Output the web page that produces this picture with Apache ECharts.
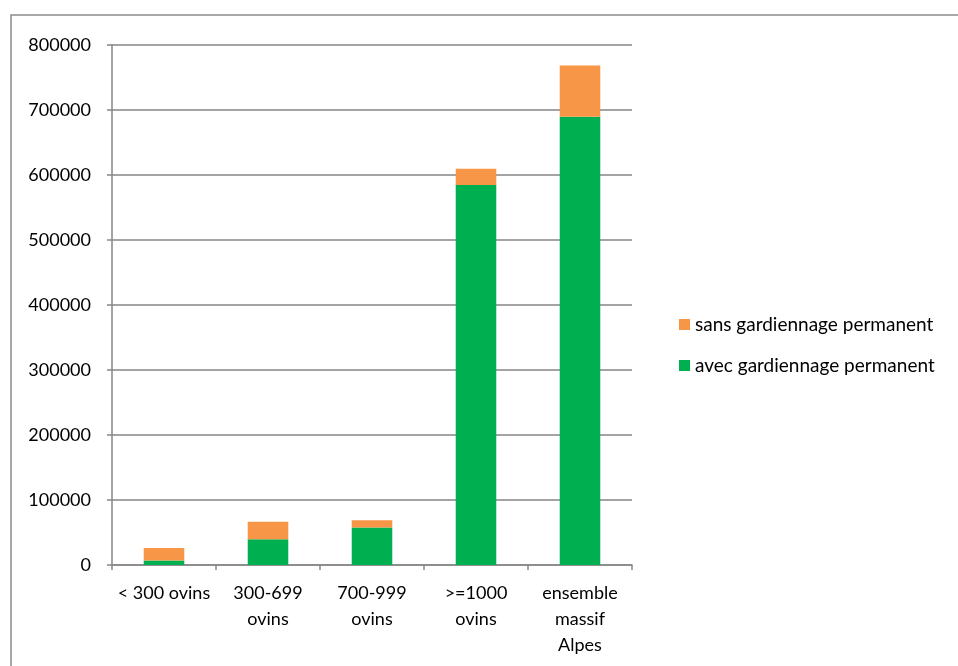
<!DOCTYPE html>
<html>
<head>
<meta charset="utf-8">
<script src="https://cdn.jsdelivr.net/npm/echarts@6/dist/echarts.min.js"></script>
<style>html,body{margin:0;padding:0;background:#fff}#c{width:958px;height:666px}</style>
</head>
<body>
<div id="c"></div>
<script>
var categories = ['< 300 ovins', '300-699\novins', '700-999\novins', '>=1000\novins', 'ensemble\nmassif\nAlpes'];
var avecValues = [6800, 39600, 57800, 584800, 689600];
var sansValues = [19200, 27100, 10900, 24700, 79000];
var yTicks = [0, 100000, 200000, 300000, 400000, 500000, 600000, 700000, 800000];
var seriesNames = ['sans gardiennage permanent', 'avec gardiennage permanent'];

var FONT = 'Lato';
var chart = echarts.init(document.getElementById('c'), null, {renderer: 'canvas'});
chart.setOption({
  animation: false,
  backgroundColor: '#fff',
  graphic: [{
    type: 'rect',
    shape: {x: 11, y: 15, width: 1000, height: 700},
    style: {fill: 'none', stroke: '#8c8c8c', lineWidth: 1.5},
    z: -1
  }],
  grid: {left: 112, right: 326, top: 45, bottom: 101, containLabel: false},
  legend: {
    orient: 'vertical',
    left: 674,
    top: 310,
    itemGap: 22,
    icon: 'rect',
    itemWidth: 11,
    itemHeight: 11,
    data: seriesNames,
    textStyle: {fontFamily: FONT, fontSize: 19, color: '#000'}
  },
  xAxis: {
    type: 'category',
    data: categories,
    boundaryGap: true,
    axisLine: {lineStyle: {color: '#868686', width: 1.5}},
    axisTick: {show: true, length: 5, lineStyle: {color: '#868686', width: 1.5}},
    axisLabel: {interval: 0, margin: 15, lineHeight: 26, fontFamily: FONT, fontSize: 18, color: '#000'}
  },
  yAxis: {
    type: 'value',
    min: yTicks[0],
    max: yTicks[yTicks.length - 1],
    interval: yTicks[1] - yTicks[0],
    axisLine: {show: true, lineStyle: {color: '#868686', width: 1.5}},
    axisTick: {show: true, length: 5, lineStyle: {color: '#868686', width: 1.5}},
    splitLine: {show: true, lineStyle: {color: '#868686', width: 1.5}},
    axisLabel: {margin: 21, fontFamily: FONT, fontSize: 18, color: '#000',
      formatter: function (v) { return String(v); }}
  },
  series: [
    {
      name: seriesNames[1], type: 'bar', stack: 'total', data: avecValues,
      barWidth: '39%', itemStyle: {color: '#00B050'}
    },
    {
      name: seriesNames[0], type: 'bar', stack: 'total', data: sansValues,
      barWidth: '39%', itemStyle: {color: '#F79646'}
    }
  ]
});
</script>
</body>
</html>
